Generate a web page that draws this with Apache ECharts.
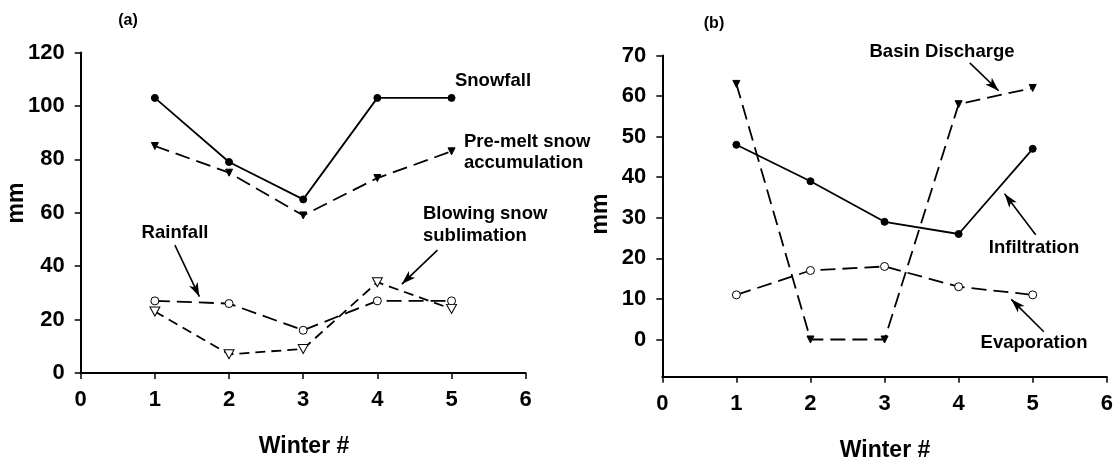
<!DOCTYPE html>
<html>
<head>
<meta charset="utf-8">
<script src="https://cdn.jsdelivr.net/npm/echarts@6/dist/echarts.min.js"></script>
<style>
  html, body { margin: 0; padding: 0; background: #fff; }
  #chart { width: 1117px; height: 464px; }
</style>
</head>
<body>
<div id="chart"></div>
<script>
// Winter number on the x axis, water-balance terms (mm) on the y axes
const winters = [1, 2, 3, 4, 5];
const xTicks = [0, 1, 2, 3, 4, 5, 6];

// panel (a)
const snowfall = [103, 79, 65, 103, 103];
const premeltSnow = [85, 75, 59, 73, 83];
const rainfall = [27, 26, 16, 27, 27];
const blowingSnowSublimation = [23, 7, 9, 34, 24];
const yTicksA = [0, 20, 40, 60, 80, 100, 120];

// panel (b)
const basinDischarge = [63, 0, 0, 58, 62];
const infiltration = [48, 39, 29, 26, 47];
const evaporation = [11, 17, 18, 13, 11];
const yTicksB = [0, 10, 20, 30, 40, 50, 60, 70];

const FONT = '"Liberation Sans", Arial, Helvetica, sans-serif';
const pairs = vals => winters.map((w, i) => [w, vals[i]]);

const chart = echarts.init(document.getElementById('chart'), null, { renderer: 'canvas' });

function xAxisFor(gridIndex) {
  return {
    type: 'value', gridIndex, min: 0, max: 6, interval: 1,
    axisLine: { show: true, onZero: false, lineStyle: { color: '#000', width: 2 } },
    axisTick: { show: true, inside: false, length: 6, lineStyle: { color: '#000', width: 1.5 } },
    axisLabel: { color: '#000', fontFamily: FONT, fontWeight: 'bold', fontSize: 22, margin: 16,
                 customValues: xTicks },
    splitLine: { show: false }
  };
}

function yAxisFor(gridIndex, min, max, ticks) {
  return {
    type: 'value', gridIndex, min, max,
    axisLine: { show: true, onZero: false, lineStyle: { color: '#000', width: 2 } },
    axisTick: { show: true, inside: false, length: 6, lineStyle: { color: '#000', width: 1.5 },
                customValues: ticks },
    axisLabel: { color: '#000', fontFamily: FONT, fontWeight: 'bold', fontSize: 22, margin: 16,
                 customValues: ticks },
    splitLine: { show: false }
  };
}

const filledDot = { symbol: 'circle', symbolSize: 7, itemStyle: { color: '#000', borderColor: '#000', borderWidth: 1 } };
const openDot = { symbol: 'circle', symbolSize: 8, itemStyle: { color: '#fff', borderColor: '#000', borderWidth: 1 } };
const filledDown = { symbol: 'triangle', symbolRotate: 180, symbolSize: 7, itemStyle: { color: '#000', borderColor: '#000', borderWidth: 1 } };
const openDown = { symbol: 'triangle', symbolRotate: 180, symbolSize: [10, 9], itemStyle: { color: '#fff', borderColor: '#000', borderWidth: 1 } };

// callout arrow drawn in data coordinates of its panel
function arrow(from, to) {
  return [
    { coord: from, symbol: 'none' },
    { coord: to, symbol: 'arrow', symbolSize: [7, 14] }
  ];
}
function arrows(list) {
  return {
    silent: true, animation: false,
    label: { show: false },
    lineStyle: { color: '#000', width: 1.6, type: 'solid' },
    emphasis: { disabled: true },
    data: list
  };
}

function lineSeries(name, data, xi, marker, dash, extra) {
  return Object.assign({
    name, type: 'line', xAxisIndex: xi, yAxisIndex: xi,
    data: pairs(data),
    showSymbol: true,
    symbol: marker.symbol, symbolSize: marker.symbolSize,
    symbolRotate: marker.symbolRotate || 0,
    itemStyle: marker.itemStyle,
    lineStyle: { color: '#000', width: 1.8, type: dash },
    z: 3,
    emphasis: { disabled: true }
  }, extra || {});
}

const LONG = [15, 7];
const MID = [10, 6];

const option = {
  animation: false,
  backgroundColor: '#fff',
  grid: [
    { left: 80.7, top: 52.5, width: 445, height: 320.5, containLabel: false },
    { left: 662.3, top: 55.5, width: 444.5, height: 321.3, containLabel: false }
  ],
  xAxis: [xAxisFor(0), xAxisFor(1)],
  yAxis: [yAxisFor(0, 0, 120, yTicksA), yAxisFor(1, -9.2, 70, yTicksB)],
  series: [
    lineSeries('Snowfall', snowfall, 0, filledDot, 'solid'),
    lineSeries('Pre-melt snow accumulation', premeltSnow, 0, filledDown, LONG),
    lineSeries('Rainfall', rainfall, 0, openDot, LONG,
      { markLine: arrows([arrow([1.27, 47.9], [1.6, 28.6])]) }),
    lineSeries('Blowing snow sublimation', blowingSnowSublimation, 0, openDown, MID,
      { markLine: arrows([arrow([4.81, 46.0], [4.33, 33.3])]) }),
    lineSeries('Basin Discharge', basinDischarge, 1, filledDown, LONG,
      { markLine: arrows([arrow([4.15, 68.2], [4.54, 61.3])]) }),
    lineSeries('Infiltration', infiltration, 1, filledDot, 'solid',
      { markLine: arrows([arrow([5.04, 25.8], [4.62, 35.9])]) }),
    lineSeries('Evaporation', evaporation, 1, openDot, LONG,
      { markLine: arrows([arrow([5.15, 1.9], [4.71, 9.9])]) })
  ],
  graphic: [
    // panel tags
    { type: 'text', x: 128, y: 21, style: { text: '(a)', font: 'bold 16px ' + FONT, fill: '#000', align: 'center', verticalAlign: 'middle' } },
    { type: 'text', x: 714, y: 24, style: { text: '(b)', font: 'bold 16px ' + FONT, fill: '#000', align: 'center', verticalAlign: 'middle' } },
    // axis titles
    { type: 'text', x: 17, y: 203, rotation: Math.PI / 2, style: { text: 'mm', font: 'bold 23px ' + FONT, fill: '#000', align: 'center', verticalAlign: 'middle' } },
    { type: 'text', x: 601, y: 214, rotation: Math.PI / 2, style: { text: 'mm', font: 'bold 23px ' + FONT, fill: '#000', align: 'center', verticalAlign: 'middle' } },
    { type: 'text', x: 304, y: 447, style: { text: 'Winter #', font: 'bold 23px ' + FONT, fill: '#000', align: 'center', verticalAlign: 'middle' } },
    { type: 'text', x: 885, y: 451, style: { text: 'Winter #', font: 'bold 23px ' + FONT, fill: '#000', align: 'center', verticalAlign: 'middle' } },
    // callout labels, panel (a)
    { type: 'text', x: 493, y: 81, style: { text: 'Snowfall', font: 'bold 18.5px ' + FONT, fill: '#000', align: 'center', verticalAlign: 'middle' } },
    { type: 'text', x: 464, y: 152.5, style: { text: 'Pre-melt snow\naccumulation', font: 'bold 18.5px ' + FONT, lineHeight: 20.5, fill: '#000', align: 'left', verticalAlign: 'middle' } },
    { type: 'text', x: 423, y: 225, style: { text: 'Blowing snow\nsublimation', font: 'bold 18.5px ' + FONT, lineHeight: 21.5, fill: '#000', align: 'left', verticalAlign: 'middle' } },
    { type: 'text', x: 175, y: 233, style: { text: 'Rainfall', font: 'bold 18.5px ' + FONT, fill: '#000', align: 'center', verticalAlign: 'middle' } },
    // callout labels, panel (b)
    { type: 'text', x: 942, y: 52, style: { text: 'Basin Discharge', font: 'bold 18.5px ' + FONT, fill: '#000', align: 'center', verticalAlign: 'middle' } },
    { type: 'text', x: 1034, y: 248, style: { text: 'Infiltration', font: 'bold 18.5px ' + FONT, fill: '#000', align: 'center', verticalAlign: 'middle' } },
    { type: 'text', x: 1034, y: 343, style: { text: 'Evaporation', font: 'bold 18.5px ' + FONT, fill: '#000', align: 'center', verticalAlign: 'middle' } }
  ]
};

chart.setOption(option);
</script>
</body>
</html>
